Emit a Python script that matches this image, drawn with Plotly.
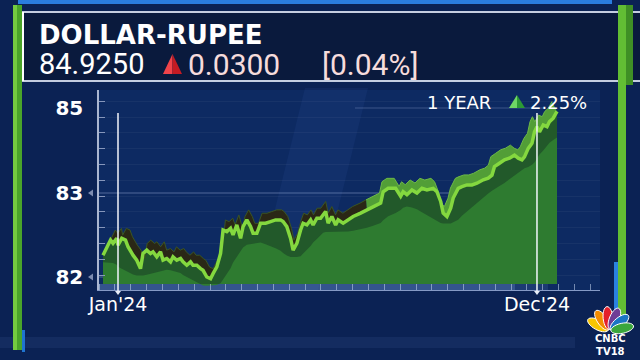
import numpy as np
import pandas as pd
import plotly.graph_objects as go

W, H = 640, 360
ML, MR, MT, MB = 99, 40, 90, 70
PW, PH = W - ML - MR, H - MT - MB

# ---------------- data ----------------
title = "DOLLAR-RUPEE"
last_price = "84.9250"
change = "0.0300"
change_pct = "[0.04%]"
period_label = "1 YEAR"
period_change = "2.25%"
logo_text = "CNBC<br>TV18"

dates = ["2023-12-20","2023-12-23","2023-12-26","2023-12-28","2023-12-31","2024-01-01","2024-01-04","2024-01-07","2024-01-09","2024-01-13",
         "2024-01-16","2024-01-19","2024-01-21","2024-01-24","2024-01-27","2024-01-29","2024-02-01","2024-02-04","2024-02-06","2024-02-09",
         "2024-02-12","2024-02-14","2024-02-17","2024-02-20","2024-02-22","2024-02-25","2024-02-28","2024-03-01","2024-03-04","2024-03-07",
         "2024-03-09","2024-03-12","2024-03-15","2024-03-17","2024-03-20","2024-03-23","2024-03-25","2024-03-28","2024-03-31","2024-04-02",
         "2024-04-05","2024-04-08","2024-04-10","2024-04-13","2024-04-16","2024-04-18","2024-04-21","2024-04-24","2024-04-28","2024-05-02",
         "2024-05-06","2024-05-10","2024-05-12","2024-05-15","2024-05-18","2024-05-20","2024-05-23","2024-05-26","2024-05-28","2024-05-31",
         "2024-06-03","2024-06-05","2024-06-08","2024-06-11","2024-06-13","2024-06-15","2024-06-17","2024-06-20","2024-06-23","2024-06-25",
         "2024-06-29","2024-07-03","2024-07-07","2024-07-13","2024-07-18","2024-07-23","2024-07-29","2024-07-31","2024-08-04","2024-08-10",
         "2024-08-14","2024-08-16","2024-08-19","2024-08-23","2024-08-27","2024-08-31","2024-09-04","2024-09-09","2024-09-12","2024-09-15",
         "2024-09-17","2024-09-20","2024-09-23","2024-09-25","2024-09-29","2024-10-02","2024-10-06","2024-10-10","2024-10-14","2024-10-19",
         "2024-10-23","2024-10-26","2024-10-28","2024-11-01","2024-11-05","2024-11-09","2024-11-13","2024-11-16","2024-11-19","2024-11-21",
         "2024-11-24","2024-11-27","2024-11-29","2024-12-01","2024-12-03","2024-12-06","2024-12-09","2024-12-11","2024-12-14","2024-12-17"]

rates = [82.26,82.36,82.44,82.40,82.46,82.38,82.46,82.44,82.36,82.26,
         82.20,82.10,82.28,82.32,82.28,82.30,82.24,82.30,82.20,82.22,
         82.18,82.24,82.20,82.22,82.18,82.14,82.18,82.14,82.14,82.10,
         82.08,82.00,81.98,82.04,82.12,82.28,82.56,82.54,82.58,82.50,
         82.62,82.46,82.60,82.68,82.60,82.52,82.52,82.64,82.64,82.66,
         82.68,82.68,82.66,82.60,82.46,82.32,82.40,82.56,82.64,82.62,
         82.68,82.62,82.70,82.70,82.74,82.78,82.64,82.72,82.62,82.68,
         82.64,82.68,82.72,82.76,82.80,82.84,82.88,83.03,83.11,83.11,
         82.96,83.03,82.98,83.07,83.00,83.11,83.07,83.11,83.03,82.90,
         82.76,82.72,82.82,82.94,83.11,83.15,83.19,83.19,83.23,83.31,
         83.35,83.42,83.62,83.70,83.78,83.82,83.89,83.82,83.78,83.85,
         84.05,84.17,84.44,84.56,84.44,84.60,84.56,84.68,84.76,84.92]

tick_dates = ["2024-01-01", "2024-12-01"]
tick_text = ["Jan'24", "Dec'24"]
y_ticks = [82, 83, 85]
y_tick_text = ["82", "83", "85"]
area_floor = 81.917


# ---------------- scale helpers (piecewise axis as in the original) ----------------
def disp(v):
    v = np.asarray(v, dtype=float)
    return np.where(v < 83, (v - 83) * 84 + 84, 84 + (v - 83) * 42.5)


def xp(px):
    return (px - ML) / PW


def yp(py):
    return (H - MB - py) / PH


def path(pts):
    return "M " + " L ".join(f"{xp(a):.5f},{yp(b):.5f}" for a, b in pts) + " Z"


jan1 = pd.Timestamp("2024-01-01")
px_per_day = 1.2507
x_range = [(jan1 + pd.Timedelta(days=(ML - 118) / px_per_day)).strftime("%Y-%m-%d %H:%M:%S"),
           (jan1 + pd.Timedelta(days=(W - MR - 118) / px_per_day)).strftime("%Y-%m-%d %H:%M:%S")]

dt = pd.to_datetime(dates)
dd = np.array((dt - jan1).days, dtype=float)
yd = disp(rates)
floor = disp([area_floor, area_floor])

# smooth lower envelope for the lighter part of the area (shadow band under the line)
s = pd.Series(yd)
env = s.rolling(9, center=True, min_periods=1).min().rolling(7, center=True, min_periods=1).mean().to_numpy() - 7
env = np.minimum(env, yd - 4)

# 3D ribbon back edge (perspective offset)
dx_days = 4.0 * (1 - 2 * (dd - dd[0]) / (dd[-1] - dd[0]))
back_x = dt + pd.to_timedelta(dx_days, unit="D")
back_y = yd + 10

fig = go.Figure()
none = dict(width=0, color="rgba(0,0,0,0)")

# baseline + dark area under the line
fig.add_trace(go.Scatter(x=[dt[0], dt[-1]], y=floor, mode="lines", line=none, hoverinfo="skip"))
fig.add_trace(go.Scatter(x=dt, y=yd, mode="lines", fill="tonexty", fillcolor="#22592a", line=none, hoverinfo="skip"))
# baseline + lighter area
fig.add_trace(go.Scatter(x=[dt[0], dt[-1]], y=floor, mode="lines", line=none, hoverinfo="skip"))
fig.add_trace(go.Scatter(x=dt, y=env, mode="lines", fill="tonexty", fillcolor="#2e7b30", line=none, hoverinfo="skip"))

# ribbon segments
split = int(np.argmax(dd >= 199))
segments = [(0, split + 1, "#2a2716", "#3b5522"), (split, len(dd), "#529e37", "#6cb847")]
for a, b, fc, lc in segments:
    fig.add_trace(go.Scatter(x=dt[a:b], y=yd[a:b], mode="lines", line=none, hoverinfo="skip"))
    fig.add_trace(go.Scatter(x=back_x[a:b], y=back_y[a:b], mode="lines", fill="tonexty", fillcolor=fc,
                             line=dict(width=1, color=lc), hoverinfo="skip"))

# main line
fig.add_trace(go.Scatter(x=dt, y=yd, mode="lines", line=dict(width=3.5, color="#84d83f"), hoverinfo="skip"))

shapes = []
# header box
shapes.append(dict(type="rect", xref="paper", yref="paper", x0=xp(20), x1=xp(640), y0=yp(81), y1=yp(12),
                   fillcolor="#0a1a3d", line=dict(width=0), layer="below"))
for yy in (12, 81):
    shapes.append(dict(type="line", xref="paper", yref="paper", x0=xp(20), x1=xp(640), y0=yp(yy), y1=yp(yy),
                       line=dict(color="#c4cde0", width=2)))
shapes.append(dict(type="line", xref="paper", yref="paper", x0=xp(23), x1=xp(23), y0=yp(12), y1=yp(81),
                   line=dict(color="#ffffff", width=2)))
# top blue strip
shapes.append(dict(type="rect", xref="paper", yref="paper", x0=xp(18), x1=xp(612), y0=yp(4), y1=yp(0),
                   fillcolor="#2a7de0", line=dict(width=0)))
# green side bars
shapes.append(dict(type="rect", xref="paper", yref="paper", x0=xp(13), x1=xp(17), y0=yp(350), y1=yp(5),
                   fillcolor="#74cb40", line=dict(width=0)))
shapes.append(dict(type="rect", xref="paper", yref="paper", x0=xp(17), x1=xp(22), y0=yp(350), y1=yp(5),
                   fillcolor="#4aa52a", line=dict(width=0)))
shapes.append(dict(type="rect", xref="paper", yref="paper", x0=xp(22), x1=xp(25), y0=yp(352), y1=yp(330),
                   fillcolor="#1f74d0", line=dict(width=0)))
shapes.append(dict(type="rect", xref="paper", yref="paper", x0=xp(618), x1=xp(626), y0=yp(320), y1=yp(5),
                   fillcolor="#62bd34", line=dict(width=0)))
shapes.append(dict(type="rect", xref="paper", yref="paper", x0=xp(626), x1=xp(633), y0=yp(85), y1=yp(5),
                   fillcolor="#3f8f25", line=dict(width=0)))
shapes.append(dict(type="rect", xref="paper", yref="paper", x0=xp(614), x1=xp(618), y0=yp(322), y1=yp(262),
                   fillcolor="#2a82e0", line=dict(width=0)))
# light sweep in panel
shapes.append(dict(type="path", xref="paper", yref="paper",
                   path=path([(305, 88), (368, 88), (318, 290), (255, 290)]),
                   fillcolor="rgba(80,130,220,0.07)", line=dict(width=0), layer="below"))
# bottom streak
shapes.append(dict(type="rect", xref="paper", yref="paper", x0=xp(0), x1=xp(575), y0=yp(348), y1=yp(337),
                   fillcolor="rgba(90,125,190,0.12)", line=dict(width=0), layer="below"))
# bottom axis strip
shapes.append(dict(type="rect", xref="paper", yref="paper", x0=0, x1=xp(515), y0=0, y1=yp(284),
                   fillcolor="rgba(100,135,195,0.45)", line=dict(width=0), layer="below"))
shapes.append(dict(type="rect", xref="paper", yref="paper", x0=xp(515), x1=xp(548), y0=0, y1=yp(284),
                   fillcolor="rgba(100,135,195,0.18)", line=dict(width=0), layer="below"))
# horizontal reference lines
for v, x0 in [(83, 99), (82, 99), (85, 355)]:
    yv = float(disp(v))
    shapes.append(dict(type="line", xref="paper", yref="y", x0=xp(x0), x1=xp(545), y0=yv, y1=yv,
                       line=dict(color="rgba(165,185,225,0.45)" if v != 85 else "rgba(165,185,225,0.30)", width=1),
                       layer="below"))
# vertical white markers at tick dates
for td in tick_dates:
    shapes.append(dict(type="line", xref="x", yref="paper", x0=td, x1=td, y0=yp(291), y1=yp(113),
                       line=dict(color="#f2f5fb", width=1.5)))
    xpx = 118 + px_per_day * (pd.Timestamp(td) - jan1).days
    shapes.append(dict(type="path", xref="paper", yref="paper",
                       path=path([(xpx - 3, 291), (xpx + 3, 291), (xpx, 295)]),
                       fillcolor="#e8eef8", line=dict(width=0)))
# small axis pointers
for v in [83, 82]:
    py = 277 - float(disp(v))
    shapes.append(dict(type="path", xref="paper", yref="paper",
                       path=path([(88, py), (93, py - 3.5), (93, py + 3.5)]),
                       fillcolor="#7d8cb0", line=dict(width=0)))
# red change triangle
shapes.append(dict(type="path", xref="paper", yref="paper", path=path([(163, 74), (172.5, 54), (172.5, 74)]),
                   fillcolor="#f0444a", line=dict(width=0)))
shapes.append(dict(type="path", xref="paper", yref="paper", path=path([(172.5, 54), (182, 74), (172.5, 74)]),
                   fillcolor="#c41b23", line=dict(width=0)))
# green period triangle
shapes.append(dict(type="path", xref="paper", yref="paper", path=path([(509, 108), (517, 95), (517, 108)]),
                   fillcolor="#6fd865", line=dict(width=0)))
shapes.append(dict(type="path", xref="paper", yref="paper", path=path([(517, 95), (525, 108), (517, 108)]),
                   fillcolor="#2c9a35", line=dict(width=0)))

# CNBC-TV18 peacock
bx, by = 609.5, 331
petal_colors = ["#f7c600", "#f28c00", "#e4202a", "#6f3c96", "#1b75c4", "#3aa63c"]
for ang, col in zip([152, 124, 96, 68, 40, 12], petal_colors):
    a = np.deg2rad(ang)
    ux, uy = np.cos(a), -np.sin(a)
    nx, ny = -uy, ux
    cx, cy = bx + 13 * ux, by + 13 * uy
    t = np.linspace(0, 2 * np.pi, 28, endpoint=False)
    pts = [(cx + 11.5 * np.cos(q) * ux + 5 * np.sin(q) * nx, cy + 11.5 * np.cos(q) * uy + 5 * np.sin(q) * ny) for q in t]
    shapes.append(dict(type="path", xref="paper", yref="paper", path=path(pts),
                       fillcolor=col, line=dict(color="#ffffff", width=1)))

annotations = []


def txt(s, x, y, size, color="#ffffff", family="DejaVu Sans", weight="normal", xanchor="left"):
    annotations.append(dict(text=s, x=xp(x), y=yp(y), xref="paper", yref="paper", showarrow=False,
                            xanchor=xanchor, yanchor="middle",
                            font=dict(size=size, color=color, family=family, weight=weight)))


txt(title, 37, 35, 26, weight="bold")
txt(last_price, 37, 64, 29, family="Roboto")
txt(change, 186, 64, 30, color="#f6dcdc", family="Roboto")
txt(change_pct, 320, 64, 30, color="#f6dcdc", family="Roboto")
txt(period_label, 425, 102.5, 18)
txt(period_change, 528, 102.5, 18)
annotations.append(dict(text=logo_text, x=xp(610), y=yp(345), xref="paper", yref="paper", showarrow=False,
                        xanchor="center", yanchor="middle", align="center",
                        font=dict(size=10, color="#ffffff", family="DejaVu Sans", weight="bold")))

fig.update_layout(
    width=W, height=H,
    margin=dict(l=ML, r=MR, t=MT, b=MB, pad=0),
    paper_bgcolor="#0b2254",
    plot_bgcolor="#0d2a62",
    showlegend=False,
    shapes=shapes,
    annotations=annotations,
    xaxis=dict(type="date", range=x_range, tickmode="array", tickvals=tick_dates, ticktext=tick_text,
               ticks="", showgrid=False, zeroline=False, showline=True,
               linecolor="rgba(175,195,235,0.75)", linewidth=1,
               tickfont=dict(family="DejaVu Sans", size=19, color="#ffffff"), ticklabelstandoff=-3,
               minor=dict(ticks="inside", ticklen=6, tickcolor="rgba(200,215,240,0.55)", tickwidth=1,
                          tick0="2023-12-29 14:00", dtick=12.67 * 86400000)),
    yaxis=dict(range=[-13, 187], tickmode="array", tickvals=disp(y_ticks), ticktext=y_tick_text,
               ticks="", showgrid=False, zeroline=False, showline=True, linecolor="#aab6d0", linewidth=1.5,
               tickfont=dict(family="DejaVu Sans", size=20, color="#ffffff", weight="bold"),
               ticklabelstandoff=10,
               minor=dict(ticks="inside", ticklen=6, tickcolor="#8696bb", tickwidth=1, tick0=2, dtick=15.8,
                          showgrid=True, gridcolor="rgba(255,255,255,0.045)")),
)

fig.write_html("out.html")
